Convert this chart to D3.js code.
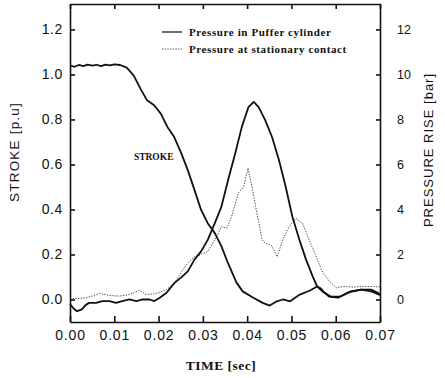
<!DOCTYPE html>
<html>
<head>
<meta charset="utf-8">
<script src="https://cdn.jsdelivr.net/npm/d3@7"></script>
<style>
    body { margin: 0; background: #fff; }
    #puffChart { width: 445px; height: 378px; }
    .axis text { font-family: "Liberation Sans", Arial, sans-serif; font-size: 14px; fill: #111; }
    .axis path, .axis line { stroke: #111; stroke-width: 1.6; }
    .label-sans { font-family: "Liberation Sans", Arial, sans-serif; fill: #111; }
    .label-serif { font-family: "Liberation Serif", "Times New Roman", serif; font-weight: bold; fill: #111; }
</style>
</head>
<body>
<div id="puffChart"></div>
<script>

// tick values
let timeTicks = [0, 0.01, 0.02, 0.03, 0.04, 0.05, 0.06, 0.07]
let strokeTicks = [0, 0.2, 0.4, 0.6, 0.8, 1.0, 1.2]
let pressureTicks = [0, 2, 4, 6, 8, 10, 12]

let legendNames = ["Pressure in Puffer cylinder", "Pressure at stationary contact"]

// [time sec, stroke p.u]
let strokeSeries = [
    [0.0000, 1.040], [0.0010, 1.034], [0.0020, 1.042], [0.0030, 1.037], [0.0040, 1.044],
    [0.0050, 1.039], [0.0060, 1.043], [0.0070, 1.037], [0.0080, 1.044], [0.0090, 1.040],
    [0.0100, 1.045], [0.0113, 1.042], [0.0128, 1.030], [0.0144, 0.995], [0.0159, 0.937],
    [0.0174, 0.885], [0.0190, 0.863], [0.0205, 0.826], [0.0220, 0.767], [0.0235, 0.723],
    [0.0250, 0.656], [0.0266, 0.575], [0.0281, 0.487], [0.0296, 0.398], [0.0311, 0.339],
    [0.0327, 0.295], [0.0342, 0.236], [0.0357, 0.160], [0.0376, 0.075], [0.0390, 0.036],
    [0.0413, 0.009], [0.0435, -0.015], [0.0451, -0.027], [0.0467, -0.008], [0.0481, 0.000],
    [0.0497, -0.008], [0.0519, 0.022], [0.0542, 0.040], [0.0558, 0.058], [0.0566, 0.050],
    [0.0575, 0.030], [0.0585, 0.013], [0.0605, 0.008], [0.0627, 0.030], [0.0657, 0.044],
    [0.0680, 0.036], [0.0700, 0.020]
]

// [time sec, pressure bar]
let pufferSeries = [
    [0.0000, -0.20], [0.0008, -0.40], [0.0016, -0.52], [0.0027, -0.44], [0.0035, -0.25],
    [0.0043, -0.15], [0.0059, -0.15], [0.0073, -0.07], [0.0089, -0.07], [0.0104, -0.15],
    [0.0118, -0.07], [0.0134, 0.00], [0.0150, -0.07], [0.0164, 0.00], [0.0180, 0.00],
    [0.0190, -0.07], [0.0202, 0.07], [0.0218, 0.30], [0.0236, 0.74], [0.0250, 0.96],
    [0.0266, 1.25], [0.0281, 1.77], [0.0296, 2.14], [0.0311, 2.65], [0.0327, 3.39],
    [0.0342, 4.13], [0.0357, 5.31], [0.0373, 6.49], [0.0388, 7.67], [0.0403, 8.55],
    [0.0415, 8.78], [0.0426, 8.55], [0.0441, 7.96], [0.0456, 7.23], [0.0472, 6.19],
    [0.0487, 5.01], [0.0502, 3.69], [0.0518, 2.65], [0.0533, 1.77], [0.0548, 1.03],
    [0.0558, 0.58], [0.0570, 0.36], [0.0589, 0.13], [0.0611, 0.13], [0.0634, 0.36],
    [0.0657, 0.44], [0.0680, 0.44], [0.0695, 0.30], [0.0700, 0.20]
]

let contactSeries = [
    [0.0000, 0.03], [0.0034, 0.07], [0.0050, 0.15], [0.0066, 0.27], [0.0089, 0.18],
    [0.0110, 0.15], [0.0134, 0.22], [0.0157, 0.41], [0.0172, 0.22], [0.0195, 0.27],
    [0.0218, 0.44], [0.0236, 0.74], [0.0250, 1.18], [0.0266, 1.62], [0.0281, 1.90],
    [0.0296, 2.00], [0.0311, 2.14], [0.0327, 2.65], [0.0342, 3.24], [0.0354, 3.17],
    [0.0365, 3.69], [0.0380, 4.72], [0.0392, 5.01], [0.0402, 5.83], [0.0411, 5.01],
    [0.0422, 3.83], [0.0434, 2.65], [0.0440, 2.50], [0.0455, 2.40], [0.0468, 1.90],
    [0.0480, 2.65], [0.0495, 3.24], [0.0510, 3.61], [0.0525, 3.39], [0.0540, 2.65],
    [0.0556, 1.90], [0.0571, 1.18], [0.0586, 0.81], [0.0601, 0.52], [0.0617, 0.58],
    [0.0640, 0.55], [0.0660, 0.58], [0.0686, 0.58], [0.0700, 0.55]
]


class StrokeVis {
    constructor(parentElement) {
        this.parentElement = parentElement;
        this.initVis()
    }

    initVis() {
        let vis = this;

        vis.margin = {top: 4, right: 65, bottom: 56, left: 70};
        vis.width = 445 - vis.margin.left - vis.margin.right;
        vis.height = 378 - vis.margin.top - vis.margin.bottom;

        vis.svg = d3.select("#" + vis.parentElement).append("svg")
            .attr("width", 445)
            .attr("height", 378)
            .append('g')
            .attr('transform', `translate (${vis.margin.left}, ${vis.margin.top})`);

        // scales, pressure axis is 10x the stroke axis
        vis.x = d3.scaleLinear().domain([0, 0.07]).range([0, vis.width]);
        vis.y = d3.scaleLinear().domain([-0.1, 1.313]).range([vis.height, 0]);
        vis.y2 = d3.scaleLinear().domain([-1.0, 13.13]).range([vis.height, 0]);

        // axes with inward ticks
        vis.svg.append("g")
            .attr("class", "axis axis--x")
            .attr("transform", "translate(0," + vis.height + ")")
            .call(d3.axisBottom(vis.x).tickValues(timeTicks).tickFormat(d3.format(".2f"))
                .tickSizeInner(-6).tickSizeOuter(0).tickPadding(8))
            .selectAll("text").attr("letter-spacing", "0.8px");

        vis.svg.append("g")
            .attr("class", "axis axis--top")
            .call(d3.axisTop(vis.x).tickValues(timeTicks).tickFormat("")
                .tickSizeInner(-5).tickSizeOuter(0));

        vis.svg.append("g")
            .attr("class", "axis axis--y")
            .call(d3.axisLeft(vis.y).tickValues(strokeTicks).tickFormat(d3.format(".1f"))
                .tickSizeInner(-5).tickSizeOuter(0).tickPadding(7))
            .selectAll("text").attr("letter-spacing", "0.6px");

        vis.svg.append("g")
            .attr("class", "axis axis--y2")
            .attr("transform", "translate(" + vis.width + ",0)")
            .call(d3.axisRight(vis.y2).tickValues(pressureTicks)
                .tickSizeInner(-4).tickSizeOuter(0).tickPadding(17))
            .selectAll("text").style("font-size", "12.5px");

        // lines
        vis.line = d3.line()
            .x(d => vis.x(d[0]))
            .y(d => vis.y(d[1]));
        vis.line2 = d3.line()
            .x(d => vis.x(d[0]))
            .y(d => vis.y2(d[1]));

        vis.svg.append("path")
            .datum(contactSeries)
            .attr("d", vis.line2)
            .attr("fill", "none")
            .attr("stroke", "#444")
            .attr("stroke-width", 1)
            .attr("stroke-dasharray", "1.3,1.4");

        vis.svg.append("path")
            .datum(strokeSeries)
            .attr("d", vis.line)
            .attr("fill", "none")
            .attr("stroke", "#111")
            .attr("stroke-width", 1.8)
            .attr("stroke-linejoin", "round");

        vis.svg.append("path")
            .datum(pufferSeries)
            .attr("d", vis.line2)
            .attr("fill", "none")
            .attr("stroke", "#111")
            .attr("stroke-width", 1.8)
            .attr("stroke-linejoin", "round");

        // legend
        let legend = vis.svg.append("g")
            .attr("transform", "translate(92, 28)");
        legend.selectAll("line")
            .data(legendNames)
            .enter().append("line")
            .attr("x1", 0).attr("x2", 20)
            .attr("y1", (d, i) => i * 17).attr("y2", (d, i) => i * 17)
            .attr("stroke", (d, i) => i === 0 ? "#111" : "#444")
            .attr("stroke-width", (d, i) => i === 0 ? 1.2 : 1)
            .attr("stroke-dasharray", (d, i) => i === 0 ? null : "1.3,1.4");
        legend.selectAll("text")
            .data(legendNames)
            .enter().append("text")
            .attr("class", "label-serif")
            .attr("x", 27)
            .attr("y", (d, i) => i * 17 + 3.5)
            .attr("letter-spacing", "0.6px")
            .style("font-size", "11px")
            .text(d => d);

        // curve label
        vis.svg.append("text")
            .attr("class", "label-serif")
            .attr("x", vis.x(0.0189))
            .attr("y", 156)
            .attr("text-anchor", "middle")
            .style("font-size", "9.5px")
            .text("STROKE");

        // axis titles
        vis.svg.append("text")
            .attr("class", "label-serif")
            .attr("x", vis.width / 2 - 4)
            .attr("y", vis.height + 48)
            .attr("text-anchor", "middle")
            .attr("letter-spacing", "0.5px")
            .style("font-size", "13.5px")
            .text("TIME [sec]");

        vis.svg.append("text")
            .attr("class", "label-sans")
            .attr("transform", `translate(${-55}, ${148}) rotate(-90)`)
            .attr("text-anchor", "middle")
            .attr("dominant-baseline", "middle")
            .attr("letter-spacing", "1.2px")
            .style("font-size", "13.5px")
            .text("STROKE [p.u]");

        vis.svg.append("text")
            .attr("class", "label-sans")
            .attr("transform", `translate(${vis.width + 50}, ${146}) rotate(-90)`)
            .attr("text-anchor", "middle")
            .attr("dominant-baseline", "middle")
            .attr("letter-spacing", "1px")
            .style("font-size", "13px")
            .text("PRESSURE RISE [bar]");
    }
}

new StrokeVis('puffChart')

</script>
</body>
</html>
